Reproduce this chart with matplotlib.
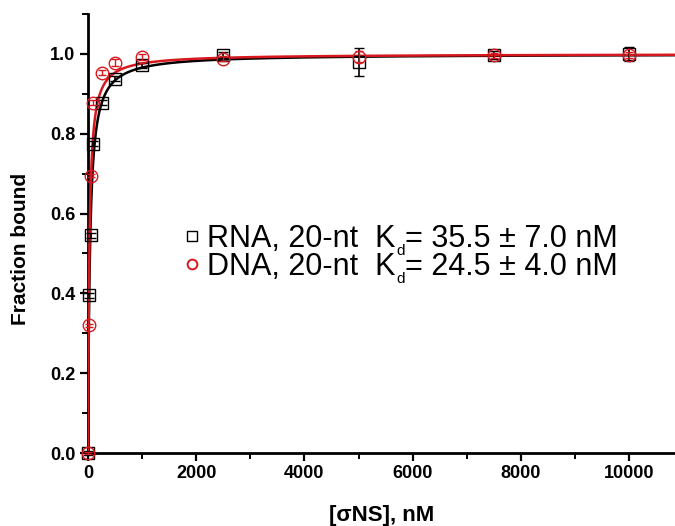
import numpy as np
import matplotlib
matplotlib.use("Agg")
import matplotlib.pyplot as plt
from matplotlib.ticker import MultipleLocator

plt.rcParams['font.family'] = ['Liberation Sans', 'DejaVu Sans']

# Data
conc = [0, 25, 50, 100, 250, 500, 1000, 2500, 5000, 7500, 10000]
rna_y = [0.0, 0.395, 0.545, 0.775, 0.878, 0.938, 0.971, 0.997, 0.980, 0.997, 0.999]
rna_err = [0.004, 0.006, 0.006, 0.007, 0.006, 0.006, 0.006, 0.008, 0.036, 0.010, 0.018]
dna_y = [0.0, 0.32, 0.695, 0.878, 0.953, 0.978, 0.993, 0.988, 0.993, 0.997, 0.998]
dna_err = [0.003, 0.004, 0.004, 0.006, 0.006, 0.008, 0.008, 0.006, 0.014, 0.006, 0.008]
kd_rna = 35.5
kd_dna = 24.5
names = ['RNA, 20-nt', 'DNA, 20-nt']
kd_texts = ['= 35.5 ± 7.0 nM', '= 24.5 ± 4.0 nM']

red = '#d7191f'

fig = plt.figure(figsize=(6.75, 5.26), dpi=100)
ax = fig.add_axes([88/675, 1-453/526, 1-88/675, (453-14)/526])

xf = np.linspace(0, 10850, 4000)
xf = np.concatenate([np.linspace(0, 300, 600), xf])
xf.sort()
ax.plot(xf, xf/(kd_rna + xf), color='black', lw=1.8, zorder=3)
ax.plot(xf, xf/(kd_dna + xf), color=red, lw=1.8, zorder=4)

ax.errorbar(conc, rna_y, yerr=rna_err, fmt='s', ms=8, mfc='none', mec='black',
            mew=1.0, ecolor='black', elinewidth=1.2, capsize=3.5, capthick=1.2,
            zorder=5, clip_on=False)
ax.errorbar(conc, dna_y, yerr=dna_err, fmt='o', ms=9, mfc='none', mec=red,
            mew=1.0, ecolor=red, elinewidth=1.0, capsize=3, capthick=1.0,
            zorder=6, clip_on=False)

ax.set_xlim(0, 10850)
ax.set_ylim(0, 1.1)
ax.xaxis.set_major_locator(MultipleLocator(2000))
ax.xaxis.set_minor_locator(MultipleLocator(1000))
ax.yaxis.set_minor_locator(MultipleLocator(0.1))
ax.set_yticks([0, 0.2, 0.4, 0.6, 0.8, 1.0])
ax.set_yticklabels(['0.0', '0.2', '0.4', '0.6', '0.8', '1.0'])

for s in ['top', 'right']:
    ax.spines[s].set_visible(False)
for s in ['left', 'bottom']:
    ax.spines[s].set_linewidth(2)
ax.tick_params(which='major', direction='out', length=6, width=1.6,
               labelsize=13, pad=3)
ax.tick_params(which='minor', direction='out', length=4, width=1.4)
for lab in ax.get_xticklabels() + ax.get_yticklabels():
    lab.set_fontweight('bold')

ax.set_xlabel('[σNS], nM', fontsize=16, fontweight='bold')
ax.set_ylabel('Fraction bound', fontsize=15, fontweight='bold')
ax.xaxis.set_label_coords(0.5, (453-515)/439, transform=ax.transAxes)
ax.xaxis.label.set_va('center')
ax.yaxis.set_label_coords((21-88)/587, (453-249)/439, transform=ax.transAxes)
ax.yaxis.label.set_va('center')

# legend-like annotation
marker_y = [0.494, 0.430]
ax.plot([0.177], [marker_y[0]], 's', ms=7, mfc='none', mec='black', mew=1.0,
        transform=ax.transAxes, clip_on=False)
ax.plot([0.177], [marker_y[1]], 'o', ms=7, mfc='none', mec=red, mew=1.4,
        transform=ax.transAxes, clip_on=False)
for name, kt, my in zip(names, kd_texts, marker_y):
    t1 = ax.text(0.203, my - 0.040, name + '  K', transform=ax.transAxes,
                 fontsize=22, va='bottom', ha='left')
    t2 = ax.annotate('d', xy=(1, 0), xycoords=t1, xytext=(0.3, 2.0),
                     textcoords='offset points', fontsize=11,
                     ha='left', va='center')
    ax.annotate(kt, xy=(1, 0), xycoords=(t2, t1), xytext=(0, 0),
                textcoords='offset points', fontsize=22,
                ha='left', va='bottom')

fig.savefig('out.png', dpi=100)
